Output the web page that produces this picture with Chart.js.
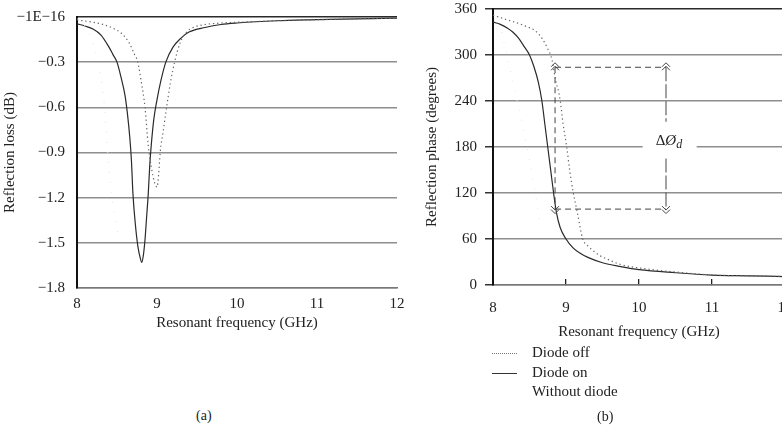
<!DOCTYPE html>
<html><head><meta charset="utf-8">
<script src="https://cdn.jsdelivr.net/npm/chart.js@4.4.0/dist/chart.umd.min.js"></script>
<style>
html,body{margin:0;padding:0;background:#fff;overflow:hidden;width:782px;height:426px;}
#wrap{position:relative;width:782px;height:426px;overflow:hidden;font-family:"Liberation Serif","DejaVu Serif",serif;color:#222;}
canvas{position:absolute;}
#c1{left:0;top:0;}
#c2{left:400px;top:0;}
.cap{position:absolute;font-size:14px;}
.leg{position:absolute;left:492px;top:343px;font-size:15px;line-height:19.5px;}
.row{position:relative;height:19.5px;}
.row .s{position:absolute;left:0;top:10px;width:25px;height:0;}
.row .t{position:absolute;left:40px;top:0;white-space:nowrap;}
</style></head><body><div id="wrap">
<canvas id="c1" width="420" height="345"></canvas>
<canvas id="c2" width="400" height="345"></canvas>
<div class="leg">
  <div class="row"><span class="s" style="border-top:1.3px dotted #777"></span><span class="t">Diode off</span></div>
  <div class="row"><span class="s" style="border-top:1.2px solid #333"></span><span class="t">Diode on</span></div>
  <div class="row"><span class="t">Without diode</span></div>
</div>
<div class="cap" style="left:196px;top:408px">(a)</div>
<div class="cap" style="left:597px;top:409px">(b)</div>
</div>
<script>
const FONT = "'Liberation Serif', 'DejaVu Serif', serif";
const INK = '#222';

// ---- axis ticks ----
const freqTicks = [8, 9, 10, 11, 12];
const lossTicks = [-1.8, -1.5, -1.2, -0.9, -0.6, -0.3, 0];
const lossTickLabels = ['−1.8', '−1.5', '−1.2', '−0.9', '−0.6', '−0.3', '−1E−16'];
const phaseTicks = [0, 60, 120, 180, 240, 300, 360];

// ---- (a) reflection loss ----
const lossFreqOn = [8.0, 8.1, 8.2, 8.3, 8.4, 8.45, 8.5, 8.55, 8.6, 8.63, 8.66, 8.68, 8.7, 8.73, 8.76, 8.79, 8.81, 8.83, 8.85, 8.87, 8.89, 8.91, 8.93, 8.96, 9.0, 9.05, 9.11, 9.2, 9.3, 9.4, 9.6, 9.8, 10.0, 10.5, 11.0, 11.5, 12.0];
const lossOn = [-0.045, -0.06, -0.08, -0.12, -0.2, -0.25, -0.3, -0.4, -0.52, -0.64, -0.8, -0.95, -1.18, -1.38, -1.52, -1.6, -1.63, -1.58, -1.48, -1.33, -1.18, -0.98, -0.84, -0.68, -0.55, -0.42, -0.3, -0.2, -0.14, -0.1, -0.07, -0.05, -0.04, -0.025, -0.018, -0.012, -0.008];
const lossFreqOff = [8.0, 8.2, 8.33, 8.45, 8.56, 8.65, 8.72, 8.76, 8.8, 8.85, 8.89, 8.93, 8.97, 9.0, 9.02, 9.04, 9.08, 9.12, 9.17, 9.22, 9.29, 9.37, 9.45, 9.6, 9.8, 10.0, 10.5, 11.0, 11.5, 12.0];
const lossOff = [-0.02, -0.035, -0.05, -0.075, -0.11, -0.17, -0.25, -0.3, -0.42, -0.6, -0.85, -1.0, -1.1, -1.13, -1.05, -0.9, -0.75, -0.6, -0.43, -0.3, -0.17, -0.1, -0.07, -0.05, -0.04, -0.035, -0.025, -0.018, -0.012, -0.008];
const lossFreqWithout = [8.0, 8.1, 8.2, 8.26, 8.33, 8.41, 8.45, 8.51];
const lossWithout = [-0.01, -0.06, -0.17, -0.3, -0.52, -1.07, -1.25, -1.43];

// ---- (b) reflection phase ----
const phaseFreqOn = [8.0, 8.1, 8.2, 8.27, 8.35, 8.42, 8.5, 8.56, 8.62, 8.67, 8.71, 8.75, 8.79, 8.83, 8.87, 8.92, 9.0, 9.1, 9.2, 9.3, 9.5, 9.75, 10.0, 10.5, 11.0, 11.5, 12.0];
const phaseOn = [343, 340, 335, 330, 322, 312, 300, 285, 265, 240, 210, 180, 150, 120, 94, 75, 60, 48, 41, 36, 29, 24, 20, 16, 13, 12, 11];
const phaseFreqOff = [8.0, 8.19, 8.41, 8.62, 8.74, 8.81, 8.85, 8.92, 8.96, 9.01, 9.05, 9.1, 9.15, 9.23, 9.3, 9.37, 9.47, 9.56, 9.74, 10.1, 10.5, 11.0, 11.5, 12.0];
const phaseOff = [352, 346, 339, 328, 310, 293, 271, 241, 210, 180, 150, 120, 97, 60, 51, 45, 38, 34, 27, 21, 17, 13, 12, 11];
const phaseFreqWithout = [8.12, 8.51, 8.6, 8.64];
const phaseWithout = [330, 158, 107, 80];

// ---- phase-shift annotation ----
const shiftFreq = [8.85, 10.37];
const shiftPhase = [284, 99];
const shiftGap = [213, 165];
const shiftLabelPos = [10.42, 188];

const pts = (xs, ys) => xs.map((x, i) => ({x, y: ys[i]}));

function lineDs(label, xs, ys, kind) {
  const base = {label, data: pts(xs, ys), pointRadius: 0, cubicInterpolationMode: 'monotone', fill: false};
  if (kind === 'solid') return Object.assign(base, {borderColor: '#2a2a2a', borderWidth: 1.2});
  if (kind === 'dot') return Object.assign(base, {borderColor: '#666', borderWidth: 1.2, borderDash: [1.3, 2.9]});
  return Object.assign(base, {borderColor: '#e2e2e2', borderWidth: 1, borderDash: [1, 9]});
}

const noPadX = h => s => { s.height = h; s.paddingLeft = 0; s.paddingRight = 0; };
const noPadY = w => s => { s.width = w; s.paddingTop = 0; s.paddingBottom = 0; };

Chart.defaults.font.family = FONT;
Chart.defaults.color = INK;
Chart.defaults.animation = false;

// (a)
new Chart(document.getElementById('c1'), {
  type: 'line',
  data: {datasets: [
    lineDs('Without diode', lossFreqWithout, lossWithout, 'faint'),
    lineDs('Diode off', lossFreqOff, lossOff, 'dot'),
    lineDs('Diode on', lossFreqOn, lossOn, 'solid')
  ]},
  options: {
    responsive: false, events: [],
    layout: {padding: {top: 17, right: 23, bottom: 0, left: 0}},
    plugins: {legend: {display: false}, tooltip: {enabled: false}},
    scales: {
      x: {
        type: 'linear', min: 8, max: 12,
        afterFit: noPadX(57),
        afterBuildTicks: s => { s.ticks = freqTicks.map(v => ({value: v})); },
        ticks: {font: {size: 15}, padding: 7, maxRotation: 0, color: INK},
        grid: {display: false, drawTicks: false},
        border: {display: true, color: '#777', width: 1.5},
        title: {display: true, text: 'Resonant frequency (GHz)', font: {size: 15}, color: INK, padding: {top: 0, bottom: 13}}
      },
      y: {
        type: 'linear', min: -1.8, max: 0,
        afterFit: noPadY(77),
        afterBuildTicks: s => { s.ticks = lossTicks.map(v => ({value: v})); },
        ticks: {font: {size: 15}, padding: 12, color: INK,
          callback: (v, i) => lossTickLabels[i]},
        grid: {drawTicks: false, lineWidth: 1.5,
          color: c => (c.tick && c.tick.value === 0) ? '#2a2a2a' : '#8e8e8e'},
        border: {display: true, color: '#111', width: 2},
        title: {display: true, text: 'Reflection loss (dB)', font: {size: 15}, color: INK, padding: {top: 1, bottom: 0}}
      }
    }
  }
});

// annotation plugin for (b)
const shiftPlugin = {
  id: 'shift',
  afterDatasetsDraw(chart) {
    const {ctx, scales: {x, y}} = chart;
    const xL = x.getPixelForValue(shiftFreq[0]), xR = x.getPixelForValue(shiftFreq[1]);
    const yT = y.getPixelForValue(shiftPhase[0]), yB = y.getPixelForValue(shiftPhase[1]);
    const gT = y.getPixelForValue(shiftGap[0]), gB = y.getPixelForValue(shiftGap[1]);
    ctx.save();
    ctx.strokeStyle = '#444';
    ctx.lineWidth = 1;
    ctx.setLineDash([6, 4]);
    ctx.beginPath();
    ctx.moveTo(xL, yT); ctx.lineTo(xR, yT);
    ctx.moveTo(xL, yB); ctx.lineTo(xR, yB);
    ctx.moveTo(xL, yT); ctx.lineTo(xL, yB);
    ctx.stroke();
    ctx.setLineDash([14, 3]);
    ctx.beginPath();
    ctx.moveTo(xR, yT); ctx.lineTo(xR, gT);
    ctx.moveTo(xR, gB); ctx.lineTo(xR, yB);
    ctx.stroke();
    ctx.setLineDash([]);
    // label with white box
    const lx = x.getPixelForValue(shiftLabelPos[0]), ly = y.getPixelForValue(shiftLabelPos[1]);
    ctx.fillStyle = '#fff';
    ctx.fillRect(lx - 27, ly - 10, 54, 20);
    ctx.fillStyle = INK;
    ctx.textBaseline = 'middle';
    ctx.textAlign = 'left';
    ctx.font = "15px " + FONT;
    const w1 = ctx.measureText('Δ').width;
    ctx.fillText('Δ', lx - 14, ly);
    ctx.font = "italic 15px " + FONT;
    ctx.fillText('Ø', lx - 14 + w1, ly);
    const w2 = ctx.measureText('Ø').width;
    ctx.font = "italic 12px " + FONT;
    ctx.fillText('d', lx - 14 + w1 + w2, ly + 4);
    // double chevron arrowheads
    ctx.strokeStyle = '#444';
    ctx.lineWidth = 1;
    const chev = (px, py, dir) => {
      for (let k = 0; k < 2; k++) {
        const tip = py + dir * 3.5 * k;
        ctx.beginPath();
        ctx.moveTo(px - 4, tip - dir * 4);
        ctx.lineTo(px, tip);
        ctx.lineTo(px + 4, tip - dir * 4);
        ctx.stroke();
      }
    };
    chev(xL, yT - 1, -1); chev(xR, yT - 1, -1);
    chev(xL, yB + 1, 1); chev(xR, yB + 1, 1);
    ctx.restore();
  }
};

// (b)
new Chart(document.getElementById('c2'), {
  type: 'line',
  data: {datasets: [
    lineDs('Without diode', phaseFreqWithout, phaseWithout, 'faint'),
    lineDs('Diode off', phaseFreqOff, phaseOff, 'dot'),
    lineDs('Diode on', phaseFreqOn, phaseOn, 'solid')
  ]},
  plugins: [shiftPlugin],
  options: {
    responsive: false, events: [],
    layout: {padding: {top: 9, right: 15, bottom: 0, left: 0}},
    plugins: {legend: {display: false}, tooltip: {enabled: false}},
    scales: {
      x: {
        type: 'linear', min: 8, max: 12,
        afterFit: noPadX(60),
        afterBuildTicks: s => { s.ticks = freqTicks.map(v => ({value: v})); },
        ticks: {font: {size: 15}, padding: 20, maxRotation: 0, color: INK},
        grid: {display: true, drawOnChartArea: false, drawTicks: true, tickLength: -6, tickColor: '#222', lineWidth: 1.3},
        border: {display: true, color: '#777', width: 1.5},
        title: {display: true, text: 'Resonant frequency (GHz)', font: {size: 15}, color: INK, padding: {top: 0, bottom: 4}}
      },
      y: {
        type: 'linear', min: 0, max: 360,
        afterFit: noPadY(93),
        afterBuildTicks: s => { s.ticks = phaseTicks.map(v => ({value: v})); },
        ticks: {font: {size: 15}, padding: 8, color: INK},
        grid: {drawTicks: true, tickLength: 8, tickColor: '#333', lineWidth: 1.5,
          color: c => (c.tick && c.tick.value === 360) ? '#2a2a2a' : '#8e8e8e'},
        border: {display: true, color: '#111', width: 2},
        title: {display: true, text: 'Reflection phase (degrees)', font: {size: 15}, color: INK, padding: {top: 23, bottom: 0}}
      }
    }
  }
});
</script>
</body></html>
